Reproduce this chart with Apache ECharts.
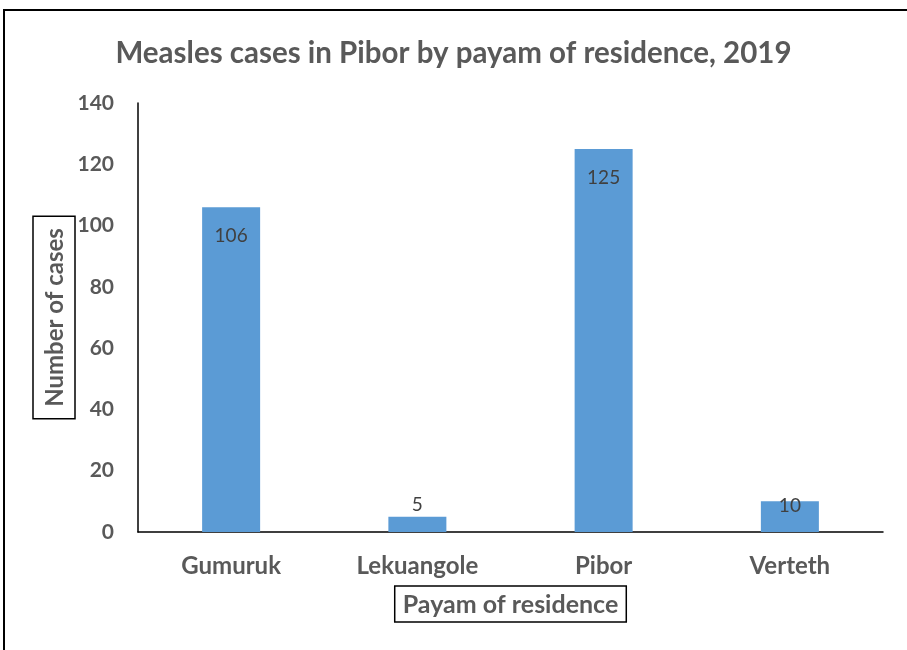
<!DOCTYPE html>
<html>
<head>
<meta charset="utf-8">
<script src="https://cdn.jsdelivr.net/npm/echarts@6/dist/echarts.min.js"></script>
<style>
html,body{margin:0;padding:0;background:#fff;}
#chart{width:907px;height:650px;}
</style>
</head>
<body>
<div id="chart"></div>
<script>
const titleText = "Measles cases in Pibor by payam of residence, 2019";
const categories = ["Gumuruk", "Lekuangole", "Pibor", "Verteth"];
const cases = [106, 5, 125, 10];
const yTicks = [0, 20, 40, 60, 80, 100, 120, 140];
const yAxisTitle = "Number of cases";
const xAxisTitle = "Payam of residence";

const FONT = "Lato";
const GREY = "#595959";

const chart = echarts.init(document.getElementById('chart'), null, {renderer: 'canvas'});

const seriesData = cases.map(function (v) {
  const item = {value: v};
  if (v < 8) {
    item.label = {position: 'top', distance: 2};
  } else if (v < 20) {
    item.label = {position: 'insideTop', distance: -5};
  }
  return item;
});

chart.setOption({
  animation: false,
  backgroundColor: '#fff',
  title: {
    text: titleText,
    left: 'center',
    top: 33,
    textStyle: {fontFamily: FONT, fontWeight: 'bold', fontSize: 29.5, color: GREY}
  },
  graphic: [{
    type: 'rect',
    shape: {x: 4, y: 10, width: 1000, height: 800},
    style: {fill: 'none', stroke: '#000', lineWidth: 2},
    silent: true
  }],
  grid: {left: 138, right: 24, top: 103, bottom: 118},
  xAxis: {
    type: 'category',
    data: categories,
    axisLine: {lineStyle: {color: '#000', width: 1.5}},
    axisTick: {show: false},
    axisLabel: {fontFamily: FONT, fontWeight: 'bold', fontSize: 24, color: GREY, margin: 22},
    name: xAxisTitle,
    nameLocation: 'middle',
    nameGap: 54,
    nameTextStyle: {
      fontFamily: FONT, fontWeight: 'bold', fontSize: 25, color: GREY,
      borderColor: '#000', borderWidth: 1.5, padding: [6, 8, 5, 8]
    }
  },
  yAxis: {
    type: 'value',
    min: yTicks[0],
    max: yTicks[yTicks.length - 1],
    interval: yTicks[1] - yTicks[0],
    splitLine: {show: false},
    axisLine: {show: true, lineStyle: {color: '#000', width: 1.5}},
    axisTick: {show: false},
    axisLabel: {fontFamily: FONT, fontWeight: 'bold', fontSize: 21, color: GREY, margin: 24},
    name: yAxisTitle,
    nameLocation: 'middle',
    nameRotate: 90,
    nameGap: 63,
    nameMoveOverlap: false,
    nameTextStyle: {
      fontFamily: FONT, fontWeight: 'bold', fontSize: 24, color: GREY,
      borderColor: '#000', borderWidth: 1.5, padding: [10, 12, 8, 12]
    }
  },
  series: [{
    type: 'bar',
    data: seriesData,
    barWidth: 58,
    itemStyle: {color: '#5B9BD5'},
    label: {
      show: true,
      position: 'insideTop',
      distance: 19,
      fontFamily: FONT,
      fontSize: 19,
      color: '#404040'
    }
  }]
});
</script>
</body>
</html>
